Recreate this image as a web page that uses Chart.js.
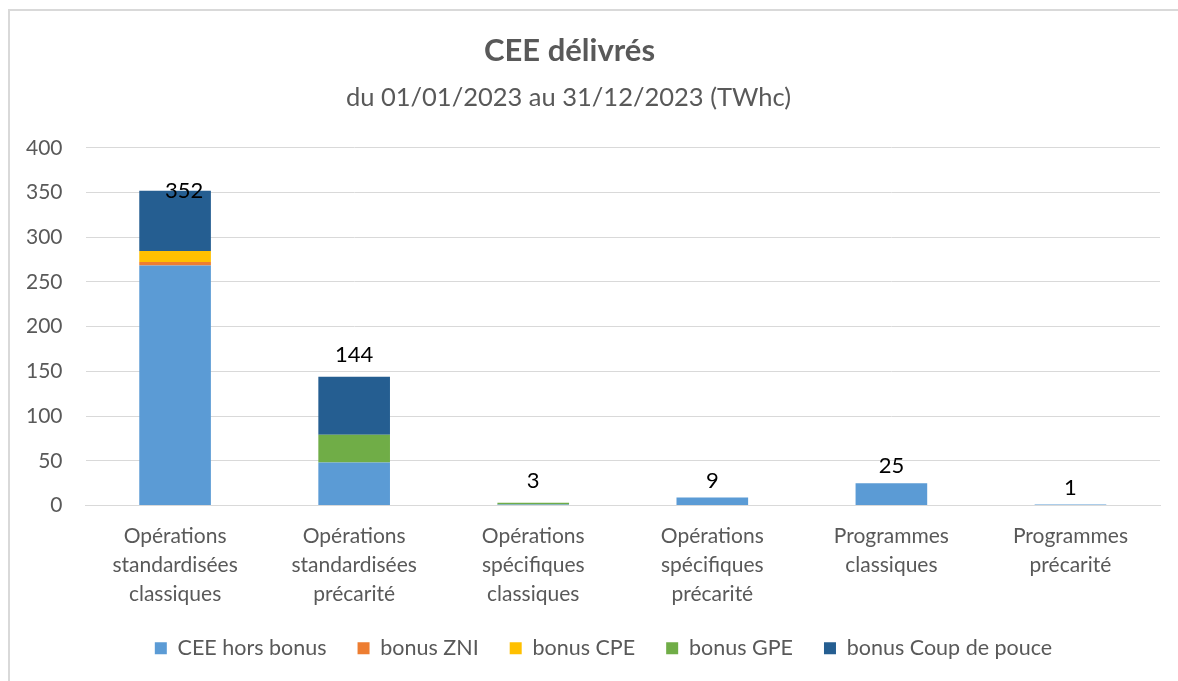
<!DOCTYPE html>
<html><head><meta charset="utf-8">
<script src="https://cdn.jsdelivr.net/npm/chart.js@4"></script>
<style>
html,body{margin:0;padding:0;background:#fff;}
#wrap{position:relative;width:1178px;height:681px;overflow:hidden;}
#frame{position:absolute;left:8px;top:9px;width:1200px;height:700px;border:2px solid #d9d9d9;box-sizing:border-box;}
canvas{position:absolute;left:0;top:0;}
</style></head>
<body><div id="wrap"><div id="frame"></div><canvas id="c" width="1178" height="681"></canvas></div>
<script>
const categories = [
  ["Opérations","standardisées","classiques"],
  ["Opérations","standardisées","précarité"],
  ["Opérations","spécifiques","classiques"],
  ["Opérations","spécifiques","précarité"],
  ["Programmes","classiques"],
  ["Programmes","précarité"]
];
const horsBonus   = [268.5, 48, 1.2, 9, 25, 1];
const bonusZNI    = [3.7, 0, 0, 0, 0, 0];
const bonusCPE    = [12.3, 0, 0, 0, 0, 0];
const bonusGPE    = [0, 31, 1.8, 0, 0, 0];
const bonusCoup   = [67.5, 65, 0, 0, 0, 0];
const totals      = [352, 144, 3, 9, 25, 1];
const seriesNames = ["CEE hors bonus","bonus ZNI","bonus CPE","bonus GPE","bonus Coup de pouce"];
const yTicks      = [0,50,100,150,200,250,300,350,400];

const FONT = "Lato, 'Open Sans', sans-serif";
const colors = ["#5B9BD5","#ED7D31","#FFC000","#70AD47","#255E91"];
const seriesData = [horsBonus, bonusZNI, bonusCPE, bonusGPE, bonusCoup];

const totalLabels = {
  id:'totalLabels',
  afterDatasetsDraw(chart){
    const ctx = chart.ctx, xs = chart.scales.x, ys = chart.scales.y;
    ctx.save();
    ctx.font = "22px " + FONT;
    ctx.fillStyle = "#000";
    ctx.textAlign = "center";
    ctx.textBaseline = "middle";
    totals.forEach((t,i)=>{
      const top = ys.getPixelForValue(t);
      const parts = seriesData.filter(s => s[i] > 0).length;
      let y = top - (parts > 1 ? 22 : 17), x = xs.getPixelForValue(i);
      if (y < chart.chartArea.top + 30) { y = top; x += 9; }
      ctx.fillText(String(t), x, y);
    });
    ctx.restore();
  }
};

// shift title / subtitle / legend horizontally like the original layout
const boxShift = {
  id:'boxShift',
  beforeDraw(chart){
    let tIdx = 0;
    chart.boxes.forEach(b => {
      if (b.axis) return;
      if (b.position === 'top') {
        const d = tIdx === 0 ? -13 : -12; tIdx++;
        b.left += d; b.right += d;
      } else if (b.position === 'bottom') {
        b.left += 22; b.right += 22;
      }
    });
  }
};

new Chart(document.getElementById('c'), {
  type:'bar',
  data:{
    labels: categories,
    datasets: seriesData.map((d,k)=>({
      label: seriesNames[k], data: d, backgroundColor: colors[k],
      borderWidth:0, barPercentage:0.4, categoryPercentage:1
    }))
  },
  options:{
    responsive:false, animation:false,
    layout:{padding:{left:3,right:18,top:22,bottom:12}},
    plugins:{
      title:{display:true,text:"CEE délivrés",color:"#595959",
        font:{family:FONT,size:31,weight:'bold'},padding:{top:10,bottom:13}},
      subtitle:{display:true,text:"du 01/01/2023 au 31/12/2023 (TWhc)",color:"#595959",
        font:{family:FONT,size:25.5},padding:{top:0,bottom:35}},
      legend:{position:'bottom',
        labels:{boxWidth:12,boxHeight:12,padding:31,color:"#595959",font:{family:FONT,size:21.5}}},
      tooltip:{enabled:false}
    },
    scales:{
      x:{stacked:true,
        afterFit(s){ s.height = 101; },
        grid:{display:false,drawTicks:false},
        border:{color:"#d9d9d9",width:1},
        ticks:{color:"#595959",font:{family:FONT,size:21,lineHeight:1.38},padding:16,maxRotation:0,autoSkip:false}},
      y:{stacked:true,min:0,max:400,
        afterBuildTicks(s){ s.ticks = yTicks.map(v=>({value:v})); },
        grid:{color:"#d9d9d9",drawTicks:false},
        border:{display:false},
        ticks:{color:"#595959",font:{family:FONT,size:21},padding:23}}
    }
  },
  plugins:[totalLabels, boxShift]
});
</script></body></html>
